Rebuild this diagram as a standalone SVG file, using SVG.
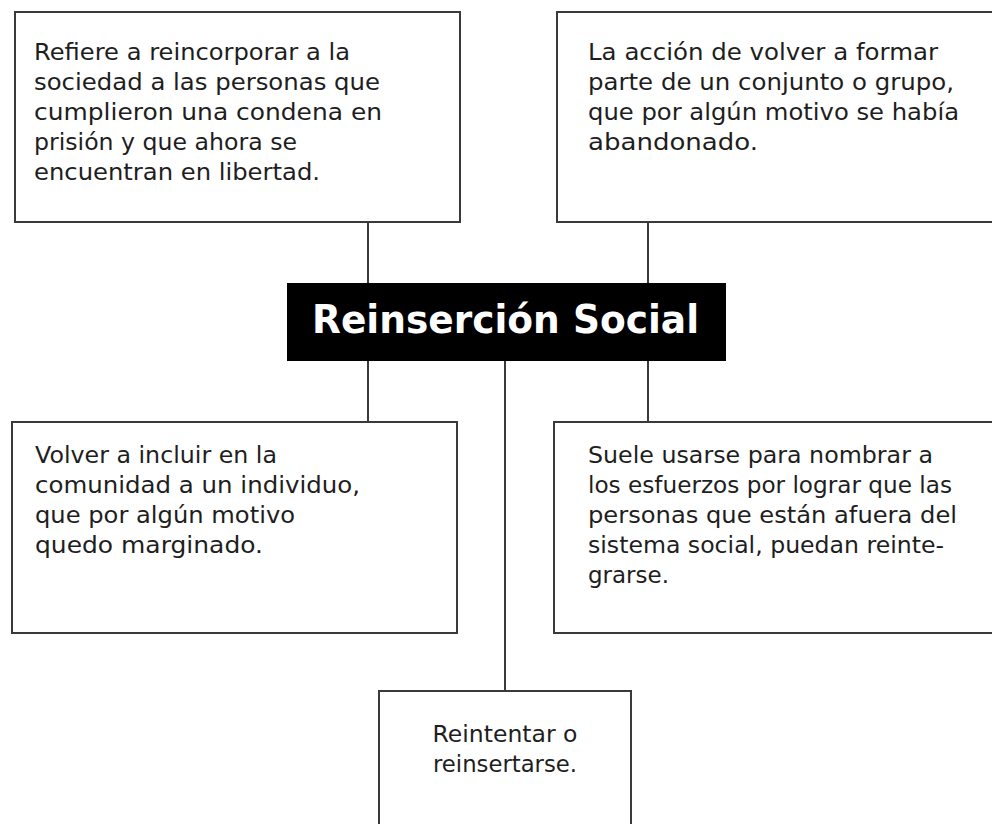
<svg xmlns="http://www.w3.org/2000/svg" width="992" height="824" viewBox="0 0 992 824">
<style>
.box{fill:#fff;stroke:#3a3a3a;stroke-width:2}
.t{font-family:"DejaVu Sans","Liberation Sans",sans-serif;font-size:22.5px;fill:#1e1e1e}
.c{stroke:#3a3a3a;stroke-width:2;fill:none}
.title{font-family:"DejaVu Sans","Liberation Sans",sans-serif;font-size:39px;font-weight:bold;fill:#fff}
</style>
<rect width="992" height="824" fill="#fff"/>
<g id="connectors">
<line class="c" x1="368" y1="222" x2="368" y2="283"/>
<line class="c" x1="648" y1="222" x2="648" y2="283"/>
<line class="c" x1="368" y1="361" x2="368" y2="422"/>
<line class="c" x1="648" y1="361" x2="648" y2="422"/>
<line class="c" x1="505" y1="361" x2="505" y2="691"/>
</g>
<g id="box1">
<rect class="box" x="15" y="12" width="445" height="210"/>
<text class="t" x="34" y="60" textLength="316" lengthAdjust="spacingAndGlyphs">Refiere a reincorporar a la</text>
<text class="t" x="34" y="90" textLength="346" lengthAdjust="spacingAndGlyphs">sociedad a las personas que</text>
<text class="t" x="34" y="120" textLength="348" lengthAdjust="spacingAndGlyphs">cumplieron una condena en</text>
<text class="t" x="34" y="150" textLength="263" lengthAdjust="spacingAndGlyphs">prisión y que ahora se</text>
<text class="t" x="34" y="180" textLength="286" lengthAdjust="spacingAndGlyphs">encuentran en libertad.</text>
</g>
<g id="box2">
<rect class="box" x="557" y="12" width="445" height="210"/>
<text class="t" x="588" y="60" textLength="350" lengthAdjust="spacingAndGlyphs">La acción de volver a formar</text>
<text class="t" x="588" y="90" textLength="366" lengthAdjust="spacingAndGlyphs">parte de un conjunto o grupo,</text>
<text class="t" x="588" y="120" textLength="371" lengthAdjust="spacingAndGlyphs">que por algún motivo se había</text>
<text class="t" x="588" y="150" textLength="170" lengthAdjust="spacingAndGlyphs">abandonado.</text>
</g>
<g id="center">
<rect x="287" y="283" width="439" height="78" fill="#000"/>
<text class="title" x="505.5" y="333" text-anchor="middle" textLength="387" lengthAdjust="spacingAndGlyphs">Reinserción Social</text>
</g>
<g id="box3">
<rect class="box" x="12" y="422" width="445" height="211"/>
<text class="t" x="35" y="463" textLength="242" lengthAdjust="spacingAndGlyphs">Volver a incluir en la</text>
<text class="t" x="35" y="493" textLength="325" lengthAdjust="spacingAndGlyphs">comunidad a un individuo,</text>
<text class="t" x="35" y="523" textLength="260" lengthAdjust="spacingAndGlyphs">que por algún motivo</text>
<text class="t" x="35" y="553" textLength="228" lengthAdjust="spacingAndGlyphs">quedo marginado.</text>
</g>
<g id="box4">
<rect class="box" x="554" y="422" width="448" height="211"/>
<text class="t" x="588" y="463" textLength="345" lengthAdjust="spacingAndGlyphs">Suele usarse para nombrar a</text>
<text class="t" x="588" y="493" textLength="364" lengthAdjust="spacingAndGlyphs">los esfuerzos por lograr que las</text>
<text class="t" x="588" y="523" textLength="369" lengthAdjust="spacingAndGlyphs">personas que están afuera del</text>
<text class="t" x="588" y="553" textLength="356" lengthAdjust="spacingAndGlyphs">sistema social, puedan reinte-</text>
<text class="t" x="588" y="583" textLength="81" lengthAdjust="spacingAndGlyphs">grarse.</text>
</g>
<g id="box5">
<rect class="box" x="379" y="691" width="252" height="150"/>
<text class="t" x="505" y="742" text-anchor="middle" textLength="145" lengthAdjust="spacingAndGlyphs">Reintentar o</text>
<text class="t" x="505" y="772" text-anchor="middle" textLength="144" lengthAdjust="spacingAndGlyphs">reinsertarse.</text>
</g>
</svg>
